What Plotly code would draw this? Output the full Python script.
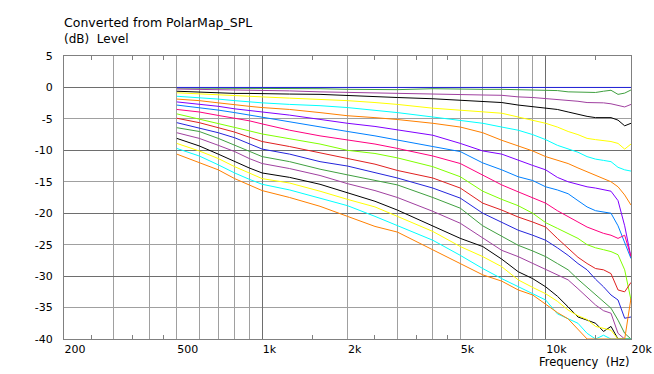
import math
import plotly.graph_objects as go

# ---------------- data ----------------
freq_hz = [500, 600, 700, 800, 900, 1000, 1250, 1600, 2000, 2500, 3000, 4000, 5000, 6000,
           7000, 8000, 9000, 10000, 11000, 12000, 13000, 14000, 15000, 16000, 17000, 18000,
           19000, 20000]

spl_00 = [0.0, 0.0, 0.0, 0.0, 0.0, 0.0, 0.0, 0.0, 0.0, 0.0, 0.0, 0.0, 0.0, 0.0,
          0.0, 0.0, 0.0, 0.0, 0.0, 0.0, 0.0, 0.0, 0.0, 0.0, 0.0, 0.0, 0.0, 0.0]
spl_05 = [-0.1, -0.1, -0.1, -0.1, -0.1, -0.1, -0.15, -0.2, -0.3, -0.35, -0.35, -0.2, -0.3, -0.3,
          -0.3, -0.35, -0.4, -0.45, -0.5, -0.7, -0.75, -0.8, -0.8, -0.6, -0.45, -1.1, -0.9, -0.4]
spl_10 = [-0.25, -0.3, -0.35, -0.4, -0.45, -0.5, -0.55, -0.7, -0.8, -0.9, -1.0, -1.1, -1.2, -1.2,
          -1.25, -1.5, -1.6, -1.75, -1.85, -2.0, -2.2, -2.4, -2.4, -2.45, -2.6, -2.8, -3.1, -2.7]
spl_15 = [-0.6, -0.75, -0.85, -0.95, -0.95, -1.0, -1.05, -1.1, -1.3, -1.5, -1.6, -1.8, -2.0, -2.2,
          -2.4, -2.8, -3.1, -3.35, -3.5, -3.9, -4.3, -4.6, -4.8, -4.8, -4.8, -5.2, -6.1, -5.7]
spl_20 = [-0.85, -1.05, -1.2, -1.35, -1.45, -1.5, -1.7, -1.9, -2.1, -2.4, -2.7, -3.3, -3.6, -3.9,
          -4.1, -4.7, -5.2, -5.7, -6.3, -7.0, -7.5, -8.1, -8.3, -8.5, -8.6, -8.9, -9.8, -9.0]
spl_25 = [-1.4, -1.6, -1.85, -2.1, -2.3, -2.45, -2.7, -2.9, -3.2, -3.6, -4.0, -4.7, -5.2, -5.7,
          -6.3, -6.8, -7.5, -8.3, -9.2, -9.8, -10.3, -11.0, -11.4, -11.6, -11.8, -12.7, -13.1, -13.3]
spl_30 = [-1.85, -2.1, -2.45, -2.8, -3.0, -3.2, -3.5, -4.0, -4.5, -4.8, -5.1, -5.7, -6.3, -7.2,
          -8.4, -9.3, -10.1, -11.0, -11.6, -12.1, -12.8, -13.4, -14.0, -14.5, -15.0, -15.8, -17.1, -18.7]
spl_35 = [-2.3, -2.65, -3.0, -3.4, -3.7, -3.9, -4.4, -5.1, -5.7, -6.2, -6.7, -7.6, -8.9, -10.1,
          -10.6, -11.6, -12.4, -13.1, -14.3, -15.0, -15.4, -15.8, -16.0, -16.2, -16.5, -18.0, -22.0, -27.0]
spl_40 = [-2.8, -3.2, -3.6, -4.0, -4.4, -4.7, -5.4, -6.3, -7.0, -7.7, -8.4, -9.4, -10.2, -12.0,
          -13.1, -14.2, -14.8, -15.8, -16.3, -16.9, -18.0, -19.0, -19.6, -19.8, -20.0, -22.0, -24.8, -27.2]
spl_45 = [-3.5, -3.9, -4.45, -4.9, -5.3, -5.8, -6.8, -7.7, -8.4, -9.0, -9.7, -10.9, -12.1, -14.0,
          -15.5, -16.6, -17.6, -18.4, -19.6, -20.6, -21.4, -22.2, -22.7, -23.2, -23.5, -24.0, -23.5, -26.9]
spl_50 = [-4.2, -5.0, -5.7, -6.3, -6.9, -7.4, -8.2, -9.0, -10.0, -10.5, -11.2, -12.6, -14.2, -16.5,
          -17.8, -18.8, -20.0, -21.5, -22.4, -23.2, -24.0, -25.0, -25.5, -25.8, -26.1, -26.6, -29.0, -33.8]
spl_55 = [-4.9, -5.6, -6.4, -7.1, -7.9, -8.6, -9.4, -10.4, -11.2, -12.2, -13.2, -14.4, -16.0, -18.4,
          -19.5, -20.6, -21.4, -22.2, -24.0, -25.5, -27.0, -28.0, -28.8, -29.0, -29.6, -32.2, -32.5, -31.0]
spl_60 = [-5.6, -6.5, -7.2, -8.0, -9.0, -9.8, -10.6, -11.8, -12.5, -13.5, -14.4, -16.0, -17.6, -20.0,
          -21.4, -22.7, -23.5, -24.3, -25.5, -26.7, -28.0, -29.0, -30.5, -31.7, -33.0, -33.8, -36.7, -36.5]
spl_65 = [-6.4, -7.0, -8.1, -9.2, -10.2, -11.0, -11.8, -13.0, -13.9, -14.8, -15.5, -17.5, -19.2, -22.0,
          -23.7, -25.1, -26.0, -26.9, -28.0, -29.0, -30.5, -31.8, -33.0, -34.0, -35.1, -37.0, -39.1, -40.0]
spl_70 = [-7.2, -8.1, -9.2, -10.2, -11.3, -12.1, -12.9, -14.0, -15.3, -16.4, -17.5, -19.7, -21.6, -24.0,
          -25.9, -26.9, -28.0, -29.0, -29.8, -30.6, -32.0, -33.3, -34.6, -35.5, -35.9, -39.1, -40.0, -40.0]
spl_75 = [-8.1, -9.3, -10.6, -11.8, -12.8, -13.6, -14.3, -15.4, -16.8, -18.1, -19.5, -22.0, -24.0, -25.3,
          -27.3, -29.3, -30.4, -31.7, -33.2, -34.9, -36.5, -37.0, -37.5, -38.8, -38.0, -40.0, -40.0, -40.0]
spl_80 = [-8.9, -10.1, -11.3, -12.6, -13.6, -14.5, -15.2, -16.5, -17.8, -19.0, -20.5, -22.9, -25.3, -26.9,
          -28.5, -30.6, -31.8, -32.8, -34.0, -35.4, -36.3, -36.9, -38.0, -38.3, -38.6, -40.0, -40.0, -40.0]
spl_85 = [-9.7, -10.9, -12.3, -13.6, -14.6, -15.4, -16.3, -17.6, -18.8, -20.5, -22.0, -24.3, -26.7, -28.8,
          -30.4, -31.7, -32.8, -33.8, -36.0, -36.8, -37.5, -39.1, -40.0, -39.4, -40.0, -40.0, -40.0, -40.0]
spl_90 = [-10.6, -11.9, -13.1, -14.5, -15.5, -16.4, -17.5, -18.9, -20.5, -22.1, -23.0, -25.8, -28.0, -29.8,
          -30.8, -32.2, -33.0, -34.5, -35.8, -36.8, -38.5, -40.0, -40.0, -40.0, -40.0, -40.0, -40.0, -33.5]

angle_labels = ["0°", "5°", "10°", "15°", "20°", "25°", "30°", "35°", "40°", "45°",
                "50°", "55°", "60°", "65°", "70°", "75°", "80°", "85°", "90°"]

line_colors = ["#2424DC", "#40A040", "#A040A0", "#000000", "#FFFF00", "#00FFFF", "#FF8000",
               "#8000FF", "#0080FF", "#FF0080", "#80FF00", "#E02020", "#2424DC", "#40A040",
               "#A040A0", "#000000", "#FFFF00", "#00FFFF", "#FF8000"]

x_tick_vals = [200, 500, 1000, 2000, 5000, 10000, 20000]
x_tick_text = ["200", "500", "1k", "2k", "5k", "10k", "20k"]
x_grid_light = [300, 400, 600, 700, 800, 900, 3000, 4000, 6000, 7000, 8000, 9000]
x_grid_dark = [1000, 10000]
x_small_ticks = [250, 350, 450, 1500, 2500, 3500, 4500, 15000]

y_tick_vals = [5, 0, -5, -10, -15, -20, -25, -30, -35, -40]
y_tick_text = ["5", "0", "-5", "-10", "-15", "-20", "-25", "-30", "-35", "-40"]
y_grid_dark = [0, -10, -20, -30, -40]

series = [spl_00, spl_05, spl_10, spl_15, spl_20, spl_25, spl_30, spl_35, spl_40, spl_45,
          spl_50, spl_55, spl_60, spl_65, spl_70, spl_75, spl_80, spl_85, spl_90]

# ---------------- styling ----------------
GRID_LIGHT = "#A0A0A0"
GRID_DARK = "#6E6E6E"
BORDER = "#808080"
FONT = "DejaVu Sans"

fig = go.Figure()
# draw 5°..90° first, then the 0° reference on top
draw_order = list(range(1, len(series))) + [0]
for i in draw_order:
    fig.add_trace(go.Scatter(x=freq_hz, y=series[i], mode="lines", name=angle_labels[i],
                             line=dict(color=line_colors[i], width=1), showlegend=False))

# empty trace to activate the overlay axes (dark grid lines, small ticks)
fig.add_trace(go.Scatter(x=[None], y=[None], xaxis="x2", yaxis="y2",
                         showlegend=False, hoverinfo="skip"))

xr = [math.log10(200), math.log10(20000)]
yr = [-40, 5]

fig.update_layout(
    width=654, height=374, autosize=False,
    margin=dict(l=64, r=23, t=56, b=35, autoexpand=False),
    paper_bgcolor="white", plot_bgcolor="white",
    font=dict(family=FONT, size=11, color="black"),
    xaxis=dict(type="log", range=xr, tickmode="array", tickvals=x_tick_vals,
               ticktext=x_tick_text, ticklabelposition="outside right", ticks="",
               automargin=False, ticklabelstandoff=0,
               showgrid=True, gridcolor=GRID_LIGHT, gridwidth=1, zeroline=False,
               showline=True, linecolor=BORDER, linewidth=1, mirror=True,
               minor=dict(tickmode="array", tickvals=x_grid_light, showgrid=True,
                          gridcolor=GRID_LIGHT, gridwidth=1, ticks=""),
               tickfont=dict(family=FONT, size=11, color="black")),
    yaxis=dict(range=yr, tickmode="array", tickvals=y_tick_vals, ticktext=y_tick_text,
               ticks="", automargin=False,
               showgrid=True, gridcolor=GRID_LIGHT, gridwidth=1, zeroline=False,
               showline=True, linecolor=BORDER, linewidth=1, mirror=True,
               ticklabelstandoff=8,
               tickfont=dict(family=FONT, size=11, color="black")),
    xaxis2=dict(type="log", range=xr, overlaying="x", anchor="y2", tickmode="array",
                tickvals=x_grid_dark, showticklabels=False, ticks="", automargin=False,
                showgrid=True, gridcolor=GRID_DARK, gridwidth=1, zeroline=False,
                showline=True, linecolor=BORDER, mirror="allticks",
                minor=dict(tickmode="array", tickvals=x_small_ticks, ticks="inside",
                           ticklen=4, tickcolor=BORDER, tickwidth=1, showgrid=False)),
    yaxis2=dict(range=yr, overlaying="y", anchor="x2", tickmode="array",
                tickvals=y_grid_dark, showticklabels=False, ticks="", automargin=False,
                showgrid=True, gridcolor=GRID_DARK, gridwidth=1, zeroline=False,
                showline=False),
)

fig.add_annotation(text="Converted from PolarMap_SPL", xref="paper", yref="paper",
                   x=-0.004, y=(339 - 22) / 283, xanchor="left", yanchor="middle",
                   showarrow=False, font=dict(family=FONT, size=12.5, color="black"))
fig.add_annotation(text="(dB)\u00a0 Level", xref="paper", yref="paper",
                   x=-0.004, y=(339 - 39) / 283, xanchor="left", yanchor="middle",
                   showarrow=False, font=dict(family=FONT, size=12, color="black"))
fig.add_annotation(text="Frequency\u00a0 (Hz)", xref="paper", yref="paper",
                   x=(631 - 64) / 567, y=(339 - 362) / 283, xanchor="right", yanchor="middle",
                   showarrow=False, font=dict(family=FONT, size=11.5, color="black"))

fig.write_html("out.html",
               config={"displayModeBar": False},
               post_script="document.body.style.margin='0';"
                           "document.body.style.overflow='hidden';")
